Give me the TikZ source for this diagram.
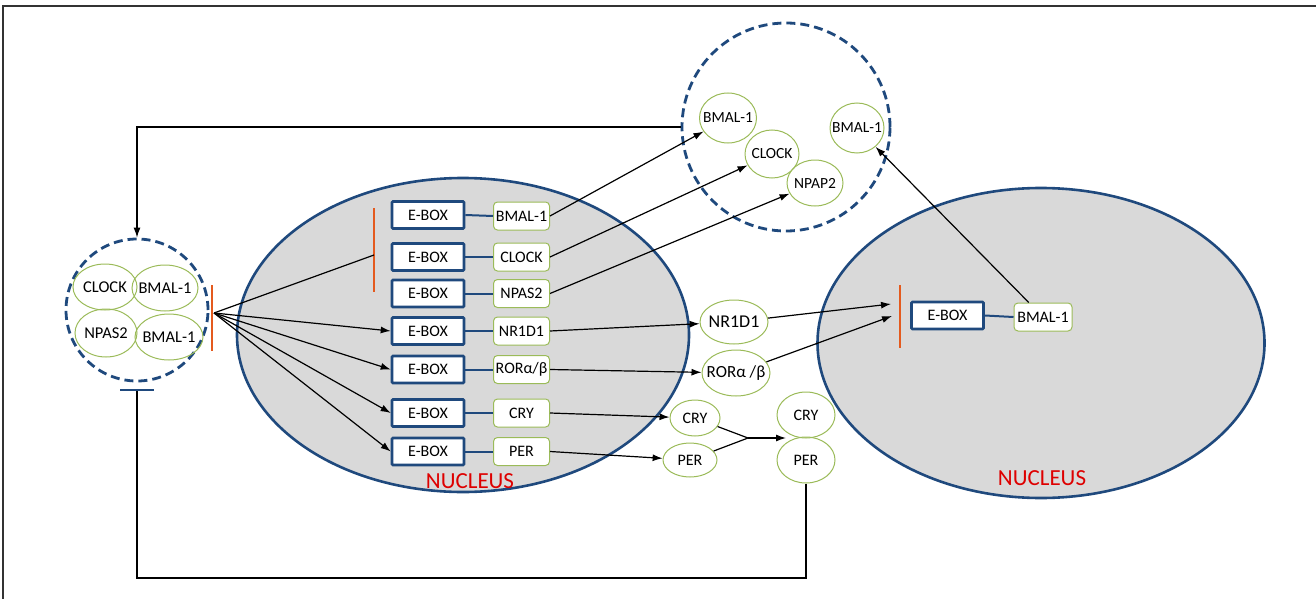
\documentclass[tikz,border=0pt]{standalone}
\usepackage{fontspec}
\setmainfont{Carlito}
\usetikzlibrary{shapes.geometric,arrows.meta}
\definecolor{dblue}{RGB}{31,73,125}
\definecolor{ngray}{RGB}{217,217,217}
\definecolor{ogreen}{RGB}{155,187,89}
\definecolor{obar}{RGB}{228,90,30}
\definecolor{nred}{RGB}{222,0,0}
\begin{document}
\begin{tikzpicture}[x=1pt,y=-1pt,
  nuc/.style={ellipse, draw=dblue, line width=2.6pt, fill=ngray, inner sep=0pt},
  dcirc/.style={circle, draw=dblue, line width=2.8pt, dash pattern=on 9pt off 5pt, inner sep=0pt},
  ebox/.style={draw=dblue, line width=2.6pt, fill=white, minimum width=72pt, minimum height=27pt, inner sep=0pt, rounded corners=1pt, font=\fontsize{16}{16}\selectfont},
  gbox/.style={draw=ogreen, line width=1pt, fill=white, rounded corners=4pt, minimum width=56pt, minimum height=28pt, inner sep=0pt, font=\fontsize{16}{16}\selectfont},
  gell/.style={ellipse, draw=ogreen, line width=1pt, inner xsep=-14pt, inner ysep=-5pt, font=\fontsize{15.5}{15.5}\selectfont},
  link/.style={draw=dblue, line width=2pt},
  arr/.style={draw=black, line width=1.2pt, -{Latex[length=10pt,width=7pt]}},
  plain/.style={draw=black, line width=1.2pt},
  obarl/.style={draw=obar, line width=2pt},
  nuctext/.style={text=nred, inner sep=0pt, font=\fontsize{23}{23}\selectfont}
]
\useasboundingbox (0,0) rectangle (1316,599);
% frame
\draw[line width=1.4pt, black!80] (3,599) -- (3,6) -- (1316,6);

% nuclei
\node[nuc, minimum width=452pt, minimum height=314pt] (nucL) at (463,335) {};
\node[nuc, minimum width=447pt, minimum height=310pt] (nucR) at (1041,343) {};
\node[nuctext] (nlabL) at (470,481) {NUCLEUS};
\node[nuctext] (nlabR) at (1042,478) {NUCLEUS};

% left dashed circle
\node[dcirc, minimum size=142pt] (lc) at (137,310) {};
\node[gell, font=\fontsize{16.5}{16.5}\selectfont, minimum width=64pt, minimum height=46pt] (lclock) at (105,287) {CLOCK};
\node[gell, font=\fontsize{16.5}{16.5}\selectfont, minimum width=66pt, minimum height=46pt] (lbmal1) at (165,288) {BMAL-1};
\node[gell, font=\fontsize{16.5}{16.5}\selectfont, minimum width=62pt, minimum height=48pt] (lnpas) at (106,333) {NPAS2};
\node[gell, font=\fontsize{16.5}{16.5}\selectfont, minimum width=68pt, minimum height=46pt] (lbmal2) at (169,337) {BMAL-1};
\draw[obarl] (212,285) -- (212,351);

% top dashed circle
\node[dcirc, minimum size=208pt] (tc) at (786,127) {};
\node[gell, minimum width=57pt, minimum height=50pt] (tb1) at (728,118) {BMAL-1};
\node[gell, minimum width=54pt, minimum height=48pt] (tb2) at (772,154) {CLOCK};
\node[gell, minimum width=56pt, minimum height=46pt] (tb3) at (815,183) {NPAP2};
\node[gell, minimum width=54pt, minimum height=50pt] (tb4) at (857,128) {BMAL-1};

% left nucleus content
\draw[obarl] (374,208) -- (374,292);
\node[ebox] (e1) at (428,215) {E-BOX};
\node[ebox] (e2) at (428,257) {E-BOX};
\node[ebox] (e3) at (428,293.5) {E-BOX};
\node[ebox] (e4) at (428,331) {E-BOX};
\node[ebox] (e5) at (428,369.5) {E-BOX};
\node[ebox] (e6) at (428,413) {E-BOX};
\node[ebox] (e7) at (428,451.5) {E-BOX};
\node[gbox] (g1) at (521.5,216) {BMAL-1};
\node[gbox] (g2) at (521.5,257) {CLOCK};
\node[gbox] (g3) at (521.5,293.5) {NPAS2};
\node[gbox] (g4) at (521.5,331) {NR1D1};
\node[gbox] (g5) at (521.5,369.5) {RORα/β};
\node[gbox] (g6) at (521.5,413) {CRY};
\node[gbox] (g7) at (521.5,451.5) {PER};
\foreach \i in {1,...,7} \draw[link] (e\i.east) -- (g\i.west);

% right nucleus content
\draw[obarl] (900,285) -- (900,348);
\node[ebox] (re) at (947.5,315.5) {E-BOX};
\node[gbox, minimum width=58pt] (rg) at (1043,317) {BMAL-1};
\draw[link] (re.east) -- (rg.west);

% middle ellipses
\node[gell, font=\fontsize{18}{18}\selectfont, minimum width=68pt, minimum height=44pt] (nr) at (734,322) {NR1D1};
\node[gell, font=\fontsize{17}{17}\selectfont, minimum width=68pt, minimum height=46pt] (ror) at (736,373) {RORα /β};
\node[gell, font=\fontsize{16}{16}\selectfont, minimum width=50pt, minimum height=36pt] (cry) at (695,418) {CRY};
\node[gell, font=\fontsize{16}{16}\selectfont, minimum width=54pt, minimum height=34pt] (per) at (690,460) {PER};
\node[gell, font=\fontsize{16}{16}\selectfont, minimum width=58pt, minimum height=46pt] (cry2) at (806,415) {CRY};
\node[gell, font=\fontsize{16}{16}\selectfont, minimum width=58pt, minimum height=46pt] (per2) at (806,460) {PER};

% fan from left circle
\coordinate (fan) at (214,313);
\coordinate (nb) at (374,255);
\draw[plain] (fan) -- (nb);
\foreach \i in {4,...,7} \draw[arr] (fan) -- (e\i.west);

% arrows out of nucleus
\draw[arr] (g1.east) -- (tb1);
\draw[arr] (g2.east) -- (tb2);
\draw[arr] (g3.east) -- (tb3);
\draw[arr] (g4.east) -- (nr);
\draw[arr] (g5.east) -- (ror);
\draw[arr] (g6.east) -- (cry);
\draw[arr] (g7.east) -- (per);

% to right nucleus
\coordinate (rt1) at (891,304);
\coordinate (rt2) at (892,316);
\draw[arr] (nr) -- (rt1);
\draw[arr] (ror) -- (rt2);
\draw[arr] (rg) -- (tb4);

% CRY/PER join
\coordinate (jn) at (748,438);
\coordinate (cp) at (786,438);
\draw[plain] (cry) -- (jn);
\draw[plain] (per) -- (jn);
\draw[arr] (jn) -- (cp);

% return from top circle
\draw[arr] (tc.west) -| (lc.north);

% inhibition from PER/CRY
\coordinate (corner) at (137,578);
\coordinate (tbar) at (137,390);
\coordinate (tbl) at (120,390);
\coordinate (tbr) at (154,390);
\draw[plain] (per2.south) |- (corner) -- (tbar);
\draw[draw=dblue, line width=2.6pt] (tbl) -- (tbr);
\end{tikzpicture}
\end{document}
